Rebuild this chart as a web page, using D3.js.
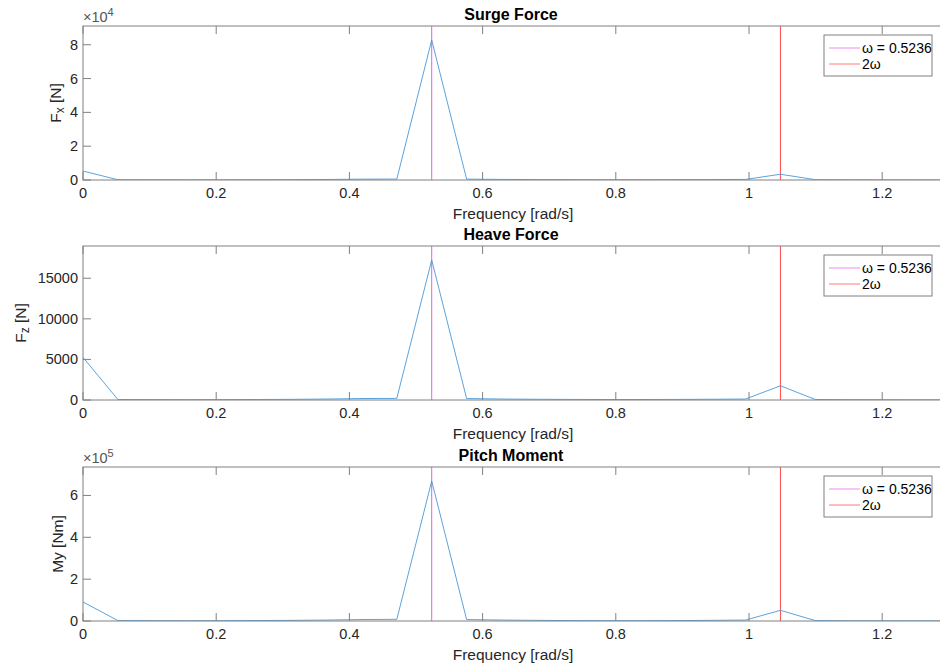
<!DOCTYPE html>
<html>
<head>
<meta charset="utf-8">
<script src="https://cdn.jsdelivr.net/npm/d3@7"></script>
<style>
  body { margin: 0; background: #fff; }
  svg { display: block; font-family: "Liberation Sans", Arial, Helvetica, sans-serif; }
</style>
</head>
<body>
<div id="chart"></div>
<script>
// FFT bins (rad/s), spacing = omega / 10
const freqs = [0, 0.0524, 0.1047, 0.1571, 0.2094, 0.2618, 0.3142, 0.3665, 0.4189, 0.4712,
  0.5236, 0.5760, 0.6283, 0.6807, 0.7330, 0.7854, 0.8378, 0.8901, 0.9425, 0.9948,
  1.0472, 1.0996, 1.1519, 1.2043, 1.2566, 1.3090];

const surge = [5300, 150, 120, 100, 120, 150, 200, 300, 500, 550,
  82800, 500, 350, 250, 200, 150, 150, 200, 250, 350,
  3400, 200, 100, 80, 60, 50];

const heave = [5250, 60, 50, 40, 50, 60, 80, 120, 180, 200,
  17250, 180, 120, 90, 70, 60, 60, 70, 90, 120,
  1750, 60, 40, 30, 25, 20];

const pitch = [91000, 2000, 1500, 1200, 1500, 2000, 3000, 4500, 7000, 8000,
  669000, 7000, 4500, 3000, 2000, 1500, 1500, 2000, 3000, 4500,
  51000, 2000, 1000, 800, 600, 500];

const omega = 0.5236;
const xTicks = [0, 0.2, 0.4, 0.6, 0.8, 1, 1.2];
const legendLabels = ['\u03c9 = 0.5236', '2\u03c9'];

const width = 940;
const height = 667;
const left = 83;
const right = 941;

const panels = [
  { title: 'Surge Force', values: surge, top: 26, bottom: 180, yTicks: [0, 20000, 40000, 60000, 80000],
    exp: 4, ylab: ['F', 'x', ' [N]'], ylabX: 55 },
  { title: 'Heave Force', values: heave, top: 246, bottom: 400, yTicks: [0, 5000, 10000, 15000],
    exp: 0, ylab: ['F', 'z', ' [N]'], ylabX: 20 },
  { title: 'Pitch Moment', values: pitch, top: 467, bottom: 621, yTicks: [0, 200000, 400000, 600000],
    exp: 5, ylab: ['My [Nm]'], ylabX: 57 }
];

const axisColor = '#808080';
const textColor = '#262626';
const lineColor = '#4898d8';
const tickFont = '14.5px';
const labelFont = '15.5px';

const svg = d3.select('#chart')
  .append('svg')
  .attr('width', width)
  .attr('height', height);

const x = d3.scaleLinear().domain([0, (right - left) / 666]).range([left, right]);

const drawPanel = (p) => {
  const ymax = d3.max(p.values) * 1.1;
  const y = d3.scaleLinear().domain([0, ymax]).range([p.bottom, p.top]);
  const g = svg.append('g');
  const scale = Math.pow(10, p.exp);

  // inward ticks on all four sides, matlab style
  const tickLen = 8;
  xTicks.forEach((t) => {
    g.append('line').attr('x1', x(t)).attr('x2', x(t)).attr('y1', p.bottom).attr('y2', p.bottom - tickLen)
      .attr('stroke', axisColor);
    g.append('line').attr('x1', x(t)).attr('x2', x(t)).attr('y1', p.top).attr('y2', p.top + tickLen)
      .attr('stroke', axisColor);
    g.append('text').attr('x', x(t)).attr('y', p.bottom + 13).attr('text-anchor', 'middle')
      .attr('dominant-baseline', 'central').attr('font-size', tickFont).attr('fill', textColor)
      .text(d3.format('')(t));
  });
  p.yTicks.forEach((t) => {
    g.append('line').attr('x1', left).attr('x2', left + tickLen).attr('y1', y(t)).attr('y2', y(t))
      .attr('stroke', axisColor);
    g.append('text').attr('x', left - 5).attr('y', y(t)).attr('text-anchor', 'end')
      .attr('dominant-baseline', 'central').attr('font-size', tickFont).attr('fill', textColor)
      .text(t / scale);
  });

  // reference lines at omega and 2*omega
  g.append('line').attr('x1', x(omega)).attr('x2', x(omega)).attr('y1', p.top).attr('y2', p.bottom)
    .attr('stroke', '#e45ce4').attr('stroke-width', 1);
  g.append('line').attr('x1', x(2 * omega)).attr('x2', x(2 * omega)).attr('y1', p.top).attr('y2', p.bottom)
    .attr('stroke', '#ff4a4a').attr('stroke-width', 1);

  // spectrum
  const clipId = 'clip' + p.top;
  g.append('clipPath').attr('id', clipId).append('rect')
    .attr('x', left).attr('y', p.top).attr('width', right - left).attr('height', p.bottom - p.top);
  g.append('path')
    .datum(freqs.map((f, i) => [f, p.values[i]]))
    .attr('clip-path', `url(#${clipId})`)
    .attr('d', d3.line().x((d) => x(d[0])).y((d) => y(d[1])))
    .style('fill', 'none')
    .style('stroke', lineColor)
    .style('stroke-width', '0.9px');

  // axes box
  g.append('rect').attr('x', left).attr('y', p.top).attr('width', right - left).attr('height', p.bottom - p.top)
    .attr('fill', 'none').attr('stroke', axisColor);

  // exponent label
  if (p.exp) {
    const e = g.append('text').attr('x', left).attr('y', p.top - 4).attr('font-size', tickFont).attr('fill', '#555');
    e.append('tspan').text('\u00d710');
    e.append('tspan').attr('dy', -6).attr('font-size', '11px').text(p.exp);
  }

  g.append('text').attr('x', (left + right) / 2 - 1).attr('y', p.top - 12)
    .attr('text-anchor', 'middle').attr('dominant-baseline', 'central')
    .attr('font-size', '16px').attr('font-weight', 'bold').attr('fill', '#000')
    .text(p.title);

  g.append('text').attr('x', 513).attr('y', p.bottom + 33)
    .attr('text-anchor', 'middle').attr('dominant-baseline', 'central')
    .attr('font-size', labelFont).attr('fill', textColor)
    .text('Frequency [rad/s]');

  // y label, with subscript where needed
  const cy = (p.top + p.bottom) / 2;
  const yl = g.append('text')
    .attr('transform', `translate(${p.ylabX},${cy}) rotate(-90)`)
    .attr('text-anchor', 'middle').attr('dominant-baseline', 'central')
    .attr('font-size', labelFont).attr('fill', textColor);
  if (p.ylab.length === 3) {
    yl.append('tspan').text(p.ylab[0]);
    yl.append('tspan').attr('dy', 5).attr('font-size', '12px').text(p.ylab[1]);
    yl.append('tspan').attr('dy', -5).text(p.ylab[2]);
  } else {
    yl.text(p.ylab[0]);
  }

  // legend
  const lx = 824;
  const ly = p.top + 9;
  g.append('rect').attr('x', lx).attr('y', ly).attr('width', 108).attr('height', 41)
    .attr('fill', '#fff').attr('stroke', axisColor);
  const legendColors = ['#f08af0', '#ff7a7a'];
  legendLabels.forEach((lab, i) => {
    const ry = ly + 13 + i * 16;
    g.append('line').attr('x1', lx + 5).attr('x2', lx + 36).attr('y1', ry).attr('y2', ry)
      .attr('stroke', legendColors[i]);
    g.append('text').attr('x', lx + 38).attr('y', ry).attr('dominant-baseline', 'central')
      .attr('font-size', '14px').attr('fill', '#000').text(lab);
  });
};

panels.forEach(drawPanel);
</script>
</body>
</html>
